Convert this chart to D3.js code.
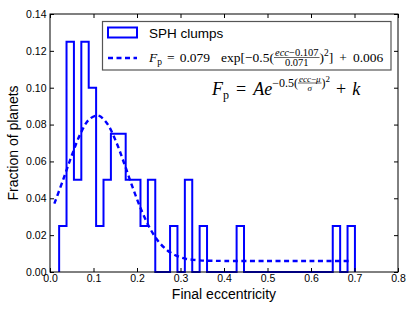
<!DOCTYPE html>
<html>
<head>
<meta charset="utf-8">
<script src="https://cdn.jsdelivr.net/npm/d3@7"></script>
<style>
  body { margin: 0; background: #fff; }
  svg { display: block; }
  text { white-space: pre; }
</style>
</head>
<body>
<div id="viz"></div>
<script>
// histogram bins (final eccentricity) and fraction of planets per bin
var binEdges = [0.021, 0.038, 0.055, 0.072, 0.089, 0.106, 0.123, 0.140, 0.157, 0.174,
                0.191, 0.208, 0.225, 0.242, 0.259, 0.276, 0.293, 0.310, 0.327, 0.344,
                0.361, 0.378, 0.395, 0.412, 0.429, 0.446, 0.463, 0.480, 0.497, 0.514,
                0.531, 0.548, 0.565, 0.582, 0.599, 0.616, 0.633, 0.650, 0.667, 0.684, 0.701];
var fraction = [0.025, 0.125, 0.05, 0.125, 0.1, 0.025, 0.05, 0.075, 0.075, 0.05,
                0.05, 0.025, 0.05, 0, 0, 0.025, 0, 0.05, 0, 0.025,
                0, 0, 0, 0, 0.025, 0, 0, 0, 0, 0,
                0, 0, 0, 0, 0, 0, 0, 0.025, 0, 0.025];

// gaussian fit curve
var fitEcc  = [0.01, 0.03, 0.05, 0.07, 0.09, 0.11, 0.13, 0.15, 0.17, 0.19, 0.21, 0.23,
               0.25, 0.27, 0.29, 0.31, 0.33, 0.35, 0.37, 0.40, 0.50, 0.60, 0.69];
var fitFrac = [0.0371, 0.0499, 0.0632, 0.0750, 0.0828, 0.0849, 0.0810, 0.0718, 0.0593, 0.0459, 0.0336, 0.0236,
               0.0164, 0.0117, 0.0089, 0.0073, 0.0066, 0.0062, 0.0061, 0.0060, 0.0060, 0.0060, 0.0060];

var xTicks = [0, 0.1, 0.2, 0.3, 0.4, 0.5, 0.6, 0.7, 0.8];
var yTicks = [0, 0.02, 0.04, 0.06, 0.08, 0.10, 0.12, 0.14];

var W = 415, H = 312,
    margin = { top: 14, right: 17, bottom: 40, left: 50 },
    blue = '#0000ff',
    sans = '"Liberation Sans", Arial, sans-serif',
    serif = '"Liberation Serif", "Times New Roman", serif';

var x = d3.scaleLinear().domain([0, 0.8]).range([margin.left, W - margin.right]);
var y = d3.scaleLinear().domain([0, 0.14]).range([H - margin.bottom, margin.top]);

var svg = d3.select('#viz').append('svg')
    .attr('width', W)
    .attr('height', H)
    .style('background', '#fff');

// step histogram outline
var stepPts = [[binEdges[0], 0]];
fraction.forEach(function(f, i) {
    stepPts.push([binEdges[i], f]);
    stepPts.push([binEdges[i + 1], f]);
});
stepPts.push([binEdges[binEdges.length - 1], 0]);

svg.append('path')
    .datum(stepPts)
    .attr('fill', 'none')
    .attr('stroke', blue)
    .attr('stroke-width', 2)
    .attr('d', d3.line().x(function(d) { return x(d[0]); }).y(function(d) { return y(d[1]); }));

// fitted curve
svg.append('path')
    .datum(d3.zip(fitEcc, fitFrac))
    .attr('fill', 'none')
    .attr('stroke', blue)
    .attr('stroke-width', 2.4)
    .attr('stroke-dasharray', '5,3.5')
    .attr('d', d3.line().curve(d3.curveCatmullRom)
        .x(function(d) { return x(d[0]); }).y(function(d) { return y(d[1]); }));

// axes, ticks pointing inward on all four sides
svg.append('g')
    .attr('transform', 'translate(0,' + y(0) + ')')
    .call(d3.axisBottom(x).tickValues(xTicks).tickFormat(d3.format('.1f'))
        .tickSizeInner(-4).tickSizeOuter(0).tickPadding(3));
svg.append('g')
    .attr('transform', 'translate(' + x(0) + ',0)')
    .call(d3.axisLeft(y).tickValues(yTicks).tickFormat(d3.format('.2f'))
        .tickSizeInner(-4).tickSizeOuter(0).tickPadding(3.5));
svg.append('g')
    .attr('transform', 'translate(0,' + y(0.14) + ')')
    .call(d3.axisTop(x).tickValues(xTicks).tickFormat('').tickSizeInner(-4).tickSizeOuter(0));
svg.append('g')
    .attr('transform', 'translate(' + x(0.8) + ',0)')
    .call(d3.axisRight(y).tickValues(yTicks).tickFormat('').tickSizeInner(-4).tickSizeOuter(0));

svg.selectAll('.domain').remove();
svg.selectAll('.tick line').attr('stroke', '#000').attr('stroke-width', 1);
svg.selectAll('.tick text')
    .attr('font-family', sans)
    .attr('font-size', 10.5)
    .attr('fill', '#000');

svg.append('rect')
    .attr('x', x(0)).attr('y', y(0.14))
    .attr('width', x(0.8) - x(0)).attr('height', y(0) - y(0.14))
    .attr('fill', 'none').attr('stroke', '#000').attr('stroke-width', 1);

// axis labels
svg.append('text')
    .attr('x', (x(0) + x(0.8)) / 2).attr('y', 299)
    .attr('text-anchor', 'middle')
    .attr('font-family', sans).attr('font-size', 14)
    .text('Final eccentricity');
svg.append('text')
    .attr('transform', 'translate(17.5,' + ((y(0) + y(0.14)) / 2) + ') rotate(-90)')
    .attr('text-anchor', 'middle')
    .attr('font-family', sans).attr('font-size', 14)
    .text('Fraction of planets');

// small helper for the math text
function runText(g, cx, yy, size, runs) {
    var t = g.append('text').attr('x', cx).attr('y', yy).attr('font-size', size);
    runs.forEach(function(r) {
        t.append('tspan').attr('font-style', r[1] ? 'italic' : null).text(r[0]);
    });
    return t;
}
function mathRow(g, x0, base, parts) {
    var cx = x0;
    parts.forEach(function(p) {
        if (p.gap !== undefined) { cx += p.gap; return; }
        var yy = base + (p.dy || 0);
        if (p.num) {
            var bar = yy - p.bar;
            var n = runText(g, 0, bar - 1.5, p.size, p.num).attr('text-anchor', 'middle');
            var d = runText(g, 0, bar + 1.2 + p.size * 0.72, p.size, p.den).attr('text-anchor', 'middle');
            var w = Math.max(n.node().getComputedTextLength(), d.node().getComputedTextLength()) + 2;
            n.attr('x', cx + w / 2);
            d.attr('x', cx + w / 2);
            g.append('line')
                .attr('x1', cx).attr('x2', cx + w).attr('y1', bar).attr('y2', bar)
                .attr('stroke', '#000').attr('stroke-width', 0.6);
            cx += w;
        } else {
            var t = runText(g, cx, yy, p.size, p.runs);
            cx += t.node().getComputedTextLength();
        }
    });
}

// legend
var legend = svg.append('g');
legend.append('rect')
    .attr('x', 102.5).attr('y', 21.5).attr('width', 288.5).attr('height', 48.5)
    .attr('fill', '#fff').attr('stroke', '#555').attr('stroke-width', 1.2);
legend.append('rect')
    .attr('x', 108).attr('y', 27.5).attr('width', 29).attr('height', 10)
    .attr('fill', 'none').attr('stroke', blue).attr('stroke-width', 2);
legend.append('text')
    .attr('x', 149).attr('y', 38)
    .attr('font-family', sans).attr('font-size', 13.5)
    .text('SPH clumps');
legend.append('line')
    .attr('x1', 108).attr('x2', 137).attr('y1', 58).attr('y2', 58)
    .attr('stroke', blue).attr('stroke-width', 2.4).attr('stroke-dasharray', '5,3.5');

var S = 13.5;
var legMath = legend.append('g').attr('font-family', serif);
mathRow(legMath, 149, 62, [
    { runs: [['F', 1]], size: S },
    { runs: [['p']], size: 9.5, dy: 3 },
    { gap: 5 },
    { runs: [['=']], size: S },
    { gap: 5 },
    { runs: [['0.079']], size: S },
    { gap: 11 },
    { runs: [['exp[−0.5(']], size: S },
    { num: [['ecc', 1], ['−0.107']], den: [['0.071']], size: 10.5, bar: 4.5 },
    { runs: [[')']], size: S },
    { runs: [['2']], size: 9.5, dy: -6 },
    { runs: [[']']], size: S },
    { gap: 6 },
    { runs: [['+']], size: S },
    { gap: 6 },
    { runs: [['0.006']], size: S }
]);

// formula annotation
var A = 18;
var note = svg.append('g').attr('font-family', serif);
mathRow(note, 212, 95, [
    { runs: [['F', 1]], size: A },
    { runs: [['p']], size: 12, dy: 4 },
    { gap: 7 },
    { runs: [['=']], size: A },
    { gap: 7 },
    { runs: [['A', 1]], size: A },
    { runs: [['e', 1]], size: A },
    { runs: [['−0.5(']], size: 12, dy: -8 },
    { num: [['ecc', 1], ['−'], ['μ', 1]], den: [['σ', 1]], size: 9, dy: -8, bar: 4 },
    { runs: [[')']], size: 12, dy: -8 },
    { runs: [['2']], size: 9, dy: -13 },
    { gap: 6 },
    { runs: [['+']], size: A },
    { gap: 6 },
    { runs: [['k', 1]], size: A }
]);
</script>
</body>
</html>
